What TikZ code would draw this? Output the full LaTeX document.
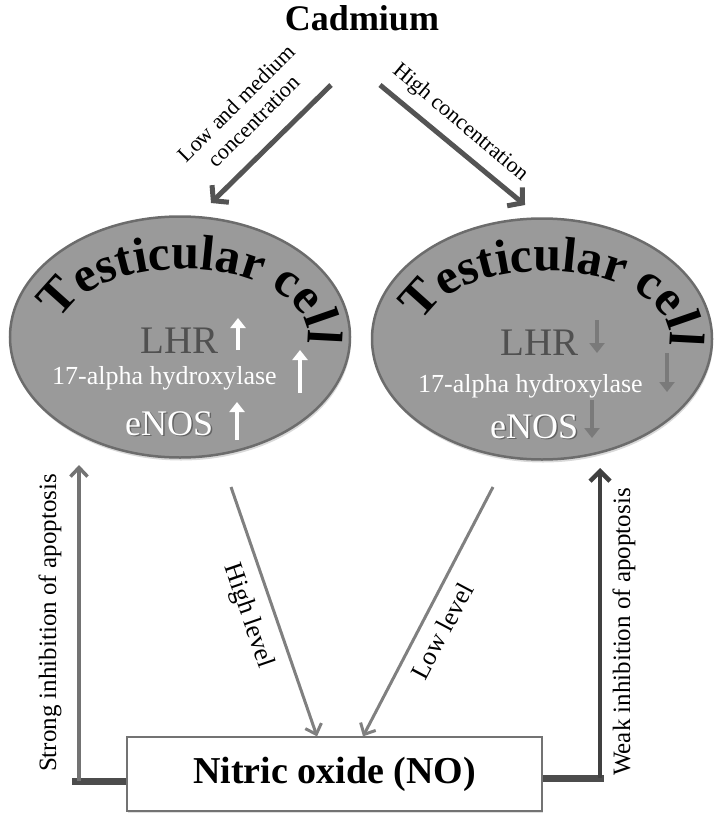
\documentclass[tikz,border=0pt]{standalone}
\usepackage{fontspec}
\setmainfont{Liberation Serif}
\usetikzlibrary{arrows.meta,shapes.geometric,decorations.text,shadows}
\definecolor{cellgray}{HTML}{9A9A9A}
\definecolor{celledge}{HTML}{6C6C6C}
\definecolor{lhrgray}{HTML}{505050}
\newcommand{\fsz}[1]{\fontsize{#1}{#1}\selectfont}
\tikzset{>/.tip={Straight Barb[length=9pt,width=17pt]},
  cell/.style={ellipse, draw=celledge, line width=2.5pt, fill=cellgray, minimum width=340pt, minimum height=241pt, inner sep=0pt,
    drop shadow={opacity=0.3, shadow xshift=1pt, shadow yshift=-3pt}},
  txt/.style={anchor=base west, inner sep=0pt},
  lbl/.style={inner sep=0pt}}

\begin{document}
\begin{tikzpicture}[x=1pt,y=-1pt]
\useasboundingbox (0,0) rectangle (718,819);
\node[font=\fsz{36}\bfseries] (cad) at (362,18) {Cadmium};
\node[cell] (lcell) at (180,337) {};
\node[cell] (rcell) at (542,339) {};
\foreach \c in {lcell,rcell}
{
  \path[decorate, decoration={text along path, text align=center, text={|\fsz{50}\bfseries|Testicular cell}}]
    ([xshift=3pt,yshift=2pt]\c.center) ++(186:125 and 66) arc (186:374:125 and 66);
}
\node[txt, text=lhrgray, font=\fsz{39}] (lhrL) at (140,353) {LHR};
\node[txt, text=white, font=\fsz{26}] (hydL) at (52,384) {17-alpha hydroxylase};
\node[txt, text=black!75, opacity=0.6, font=\fsz{36}] at (126.5,436.5) {eNOS};
\node[txt, text=white, font=\fsz{36}] (enosL) at (125,435) {eNOS};
\node[txt, text=lhrgray, font=\fsz{39}] (lhrR) at (500,355) {LHR};
\node[txt, text=white, font=\fsz{26}] (hydR) at (418,392) {17-alpha hydroxylase};
\node[txt, text=black!75, opacity=0.6, font=\fsz{36}] at (491.5,439.5) {eNOS};
\node[txt, text=white, font=\fsz{36}] (enosR) at (490,438) {eNOS};
\foreach \x/\a/\b in {238/350/318, 300/393/350, 237/440/402}
  \draw[white, line width=4.5pt, -{Triangle[length=10pt,width=15pt]}] (\x,\a) -- (\x,\b);
\foreach \x/\a/\b in {597/320/353, 667/353/392, 592/400/438}
  \draw[black!52, line width=4.5pt, -{Triangle[length=10pt,width=15pt]}] (\x,\a) -- (\x,\b);
\node[draw=black!55, line width=1.2pt, fill=white, minimum width=415pt, minimum height=74pt, font=\fsz{38}\bfseries,
  drop shadow={opacity=0.25, shadow xshift=1pt, shadow yshift=-2pt}] (no) at (334.5,774) {Nitric oxide (NO)};
\coordinate (l0) at (331,85);
\coordinate (l1) at (211,203);
\coordinate (r0) at (380,85);
\coordinate (r1) at (525,205);
\draw[black!67, line width=5pt, -{Straight Barb[length=10pt,width=24pt]}] (l0) -- (l1);
\draw[black!67, line width=5pt, -{Straight Barb[length=10pt,width=24pt]}] (r0) -- (r1);
\node[lbl, font=\fontsize{22}{25}\selectfont, rotate=45, align=center] at (245,112) {Low and medium\\concentration};
\node[lbl, font=\fsz{22}, rotate=-40] at (460,123) {High concentration};
\coordinate (hl) at (231,487);
\coordinate (ll) at (493,487);
\draw[black!50, line width=3pt, ->] (hl) -- ([xshift=-17.5pt]no.north);
\draw[black!50, line width=3pt, ->] (ll) -- ([xshift=28.5pt]no.north);
\node[lbl, font=\fsz{26}, rotate=-71] at (248,616) {High level};
\node[lbl, font=\fsz{26}, rotate=62] at (442,631) {Low level};
\coordinate (sl) at (79,781);
\coordinate (slt) at (79,465);
\coordinate (wr) at (600,778);
\coordinate (wrt) at (600,468);
\draw[black!70, line width=7pt] ([yshift=-7pt]no.west) -- (72,781);
\draw[black!70, line width=7pt] ([yshift=-4pt]no.east) -- (604,778);
\draw[black!55, line width=3.5pt, ->] (sl) -- (slt);
\draw[black!75, line width=4.5pt, -{Straight Barb[length=10pt,width=20pt]}] (wr) -- (wrt);
\node[lbl, font=\fsz{25}, rotate=90] at (50,623) {Strong inhibition of apoptosis};
\node[lbl, font=\fsz{25}, rotate=90] at (624,632) {Weak inhibition of apoptosis};
\end{tikzpicture}
\end{document}
